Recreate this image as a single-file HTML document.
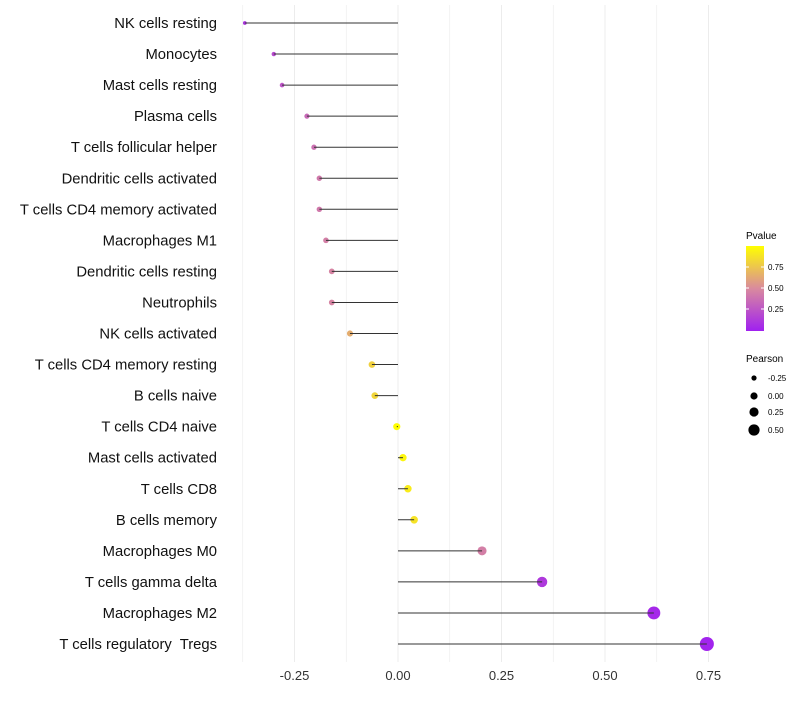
<!DOCTYPE html>
<html><head><meta charset="utf-8"><style>
body{margin:0;background:#fff;font-family:"Liberation Sans",sans-serif}
text{white-space:pre}
</style></head><body>
<svg id="chart" width="800" height="700" xmlns="http://www.w3.org/2000/svg">
<defs><linearGradient id="pg" x1="0" y1="1" x2="0" y2="0">
<stop offset="0" stop-color="#a020f0"/><stop offset="0.5" stop-color="#d98a9e"/><stop offset="1" stop-color="#ffff00"/></linearGradient></defs>
<g id="grid"></g><g id="points"></g><g id="stems"></g><g id="axes"></g>
<g>
<text x="746" y="239" font-size="10" fill="#000">Pvalue</text>
<rect x="746" y="246" width="18" height="85" fill="url(#pg)"/>
<line x1="746" x2="749" y1="267" y2="267" stroke="#fff"/><line x1="761" x2="764" y1="267" y2="267" stroke="#fff"/>
<line x1="746" x2="749" y1="288" y2="288" stroke="#fff"/><line x1="761" x2="764" y1="288" y2="288" stroke="#fff"/>
<line x1="746" x2="749" y1="309" y2="309" stroke="#fff"/><line x1="761" x2="764" y1="309" y2="309" stroke="#fff"/>
<text x="768" y="270" font-size="8">0.75</text><text x="768" y="291" font-size="8">0.50</text><text x="768" y="312" font-size="8">0.25</text>
</g>
<g>
<text x="746" y="362" font-size="10">Pearson</text>
<circle cx="754" cy="378" r="2.6"/><text x="768" y="381" font-size="8">-0.25</text>
<circle cx="754" cy="396" r="3.6"/><text x="768" y="399" font-size="8">0.00</text>
<circle cx="754" cy="412" r="4.6"/><text x="768" y="415" font-size="8">0.25</text>
<circle cx="754" cy="430" r="5.6"/><text x="768" y="433" font-size="8">0.50</text>
</g>
</svg>
<script>
const categories=["NK cells resting","Monocytes","Mast cells resting","Plasma cells","T cells follicular helper","Dendritic cells activated","T cells CD4 memory activated","Macrophages M1","Dendritic cells resting","Neutrophils","NK cells activated","T cells CD4 memory resting","B cells naive","T cells CD4 naive","Mast cells activated","T cells CD8","B cells memory","Macrophages M0","T cells gamma delta","Macrophages M2","T cells regulatory  Tregs"];
const pearson=[-0.37,-0.30,-0.28,-0.22,-0.203,-0.19,-0.19,-0.174,-0.16,-0.16,-0.116,-0.063,-0.056,-0.003,0.012,0.024,0.039,0.203,0.348,0.618,0.746];
const pvalue=[0.1,0.2,0.25,0.35,0.38,0.42,0.42,0.45,0.47,0.47,0.65,0.8,0.82,0.99,0.96,0.92,0.88,0.45,0.12,0.04,0.02];
const xTicks=[-0.25,0,0.25,0.5,0.75];
const xTickLabels=["-0.25","0.00","0.25","0.50","0.75"];
const xMinor=[-0.375,-0.125,0.125,0.375,0.625];
const X=v=>398+v*414;
const Y=i=>23+i*31.05;
const R=v=>3.6+v*4.6;
function col(p){
  const a=[160,32,240],m=[217,138,158],b=[255,255,0];let c;
  if(p<0.5){const t=p/0.5;c=a.map((x,k)=>x+(m[k]-x)*t);}else{const t=(p-0.5)/0.5;c=m.map((x,k)=>x+(b[k]-x)*t);}
  return `rgb(${c.map(Math.round).join(',')})`;
}
const NS="http://www.w3.org/2000/svg";
function mk(t,at,par){const e=document.createElementNS(NS,t);for(const k in at)e.setAttribute(k,at[k]);par.appendChild(e);return e;}
const grid=document.getElementById('grid'),pts=document.getElementById('points'),stems=document.getElementById('stems'),axes=document.getElementById('axes');
xMinor.concat(xTicks).forEach(v=>{const l=mk('line',{x1:X(v),x2:X(v),y1:5,y2:662,stroke:'#ececec','stroke-width':xTicks.includes(v)?1:0.6},grid);

});
xTicks.forEach((v,i)=>{const t=mk('text',{x:X(v),y:680,'font-size':13,'text-anchor':'middle',fill:'#333'},axes);t.textContent=xTickLabels[i];

});
categories.forEach((c,i)=>{
  const t=mk('text',{x:217,y:Y(i)+5,'font-size':14.8,'text-anchor':'end',fill:'#111'},axes);t.textContent=c;
  
  
  const p=mk('circle',{cx:X(pearson[i]),cy:Y(i),r:Math.max(1.2,R(pearson[i])),fill:col(pvalue[i])},pts);
  
  
  const l=mk('line',{x1:X(0),x2:X(pearson[i]),y1:Y(i),y2:Y(i),stroke:'#333','stroke-width':1},stems);
  
  
});
</script>
</body></html>
